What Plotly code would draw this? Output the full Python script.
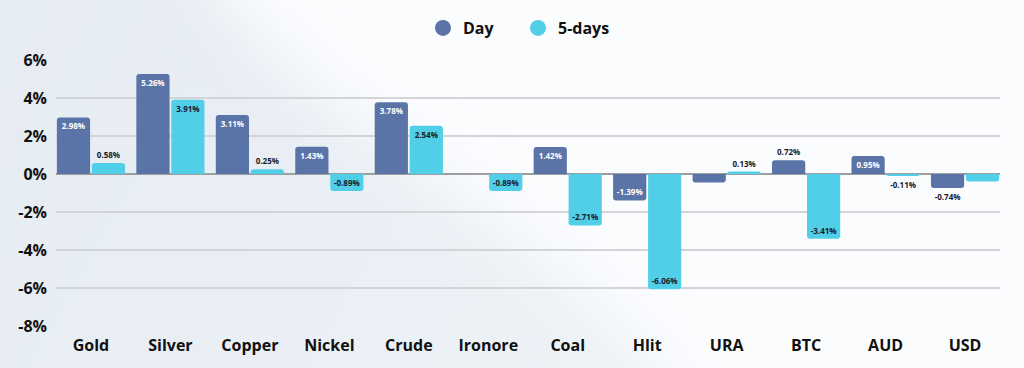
import base64
import plotly.graph_objects as go

categories = ["Gold", "Silver", "Copper", "Nickel", "Crude", "Ironore", "Coal", "Hlit", "URA", "BTC", "AUD", "USD"]
day = [2.98, 5.26, 3.11, 1.43, 3.78, None, 1.42, -1.39, -0.45, 0.72, 0.95, -0.74]
five_days = [0.58, 3.91, 0.25, -0.89, 2.54, -0.89, -2.71, -6.06, 0.13, -3.41, -0.11, -0.40]
day_labels = ["2.98%", "5.26%", "3.11%", "1.43%", "3.78%", "", "1.42%", "-1.39%", "", "0.72%", "0.95%", "-0.74%"]
five_labels = ["0.58%", "3.91%", "0.25%", "-0.89%", "2.54%", "-0.89%", "-2.71%", "-6.06%", "0.13%", "-3.41%", "-0.11%", ""]
y_ticks = [6, 4, 2, 0, -2, -4, -6, -8]
y_tick_labels = ["6%", "4%", "2%", "0%", "-2%", "-4%", "-6%", "-8%"]

DAY_COLOR = "#5a74a8"
FIVE_COLOR = "#52cfe8"
DARK = "#161a2c"
FONT = "Open Sans, sans-serif"


def positions(vals):
    return ["inside" if (v is not None and abs(v) >= 0.8) else "outside" for v in vals]


fig = go.Figure()
fig.add_trace(go.Bar(
    x=categories, y=day, name="Day", marker=dict(color=DAY_COLOR, line=dict(width=0)),
    text=day_labels, textposition=positions(day), insidetextanchor="end",
    insidetextfont=dict(color="white", size=8, family=FONT, weight=700),
    outsidetextfont=dict(color=DARK, size=8, family=FONT, weight=700),
    constraintext="none", cliponaxis=False, showlegend=False, hoverinfo="x+y",
))
fig.add_trace(go.Bar(
    x=categories, y=five_days, name="5-days", marker=dict(color=FIVE_COLOR, line=dict(width=0)),
    text=five_labels, textposition=positions(five_days), insidetextanchor="end",
    insidetextfont=dict(color=DARK, size=8, family=FONT, weight=700),
    outsidetextfont=dict(color=DARK, size=8, family=FONT, weight=700),
    constraintext="none", cliponaxis=False, showlegend=False, hoverinfo="x+y",
))
# legend entries with round markers
for name, col in [("Day", DAY_COLOR), ("5-days", FIVE_COLOR)]:
    fig.add_trace(go.Scatter(
        x=[None], y=[None], mode="markers", name=name,
        marker=dict(symbol="circle", size=17, color=col),
    ))

svg = """<svg xmlns="http://www.w3.org/2000/svg" width="1024" height="368" viewBox="0 0 1024 368">
<defs>
<linearGradient id="g" x1="0" y1="0" x2="1" y2="0.4">
<stop offset="0" stop-color="#e3eaf1"/><stop offset="1" stop-color="#edf2f7"/></linearGradient>
<filter id="b" x="-50%" y="-50%" width="200%" height="200%"><feGaussianBlur stdDeviation="30"/></filter>
</defs>
<rect width="1024" height="368" fill="#fbfcfe"/>
<path d="M-100,-100 L170,-100 C230,60 380,130 480,210 C580,290 660,330 700,470 L-100,470 Z" fill="url(#g)" filter="url(#b)"/>
</svg>"""
src = "data:image/svg+xml;base64," + base64.b64encode(svg.encode()).decode()

L, R, T, B = 56, 24, 60, 42
W, H = 1024, 368
pw, ph = W - L - R, H - T - B
fig.add_layout_image(dict(
    source=src, xref="paper", yref="paper",
    x=-L / pw, y=1 + T / ph, sizex=W / pw, sizey=H / ph,
    sizing="stretch", xanchor="left", yanchor="top", layer="below",
))

gap = 0.12
fig.update_layout(
    width=W, height=H,
    margin=dict(l=L, r=R, t=T, b=B, autoexpand=False),
    paper_bgcolor="#fbfcfe", plot_bgcolor="rgba(0,0,0,0)",
    barmode="group", bargap=gap, bargroupgap=0.05, barcornerradius=3,
    font=dict(family=FONT, color="#111111"),
    legend=dict(
        orientation="h", x=0.5 - 10 / pw, xanchor="center", y=1 + (T - 28) / ph, yanchor="middle",
        font=dict(size=16, family=FONT, weight=700, color="#111111"),
        bgcolor="rgba(0,0,0,0)", itemwidth=30, traceorder="normal",
        entrywidth=50,
    ),
    xaxis=dict(
        range=[-0.5 + gap / 2, len(categories) - 0.5 - gap / 2],
        showgrid=False, zeroline=False, showline=False, ticks="",
        tickfont=dict(size=16, family=FONT, weight=700, color="#111111"),
        ticklabelstandoff=8,
    ),
    yaxis=dict(
        range=[-8, 6], tickvals=y_ticks, ticktext=y_tick_labels,
        showgrid=True, gridcolor="#d2d4d7", gridwidth=1.5,
        zeroline=True, zerolinecolor="#9c9ea2", zerolinewidth=1.5,
        showline=False, ticks="",
        tickfont=dict(size=16, family=FONT, weight=700, color="#111111"),
        ticklabelstandoff=8,
    ),
)

fig.write_html("out.html", config={"displayModeBar": False},
               post_script="document.body.style.margin='0';")
